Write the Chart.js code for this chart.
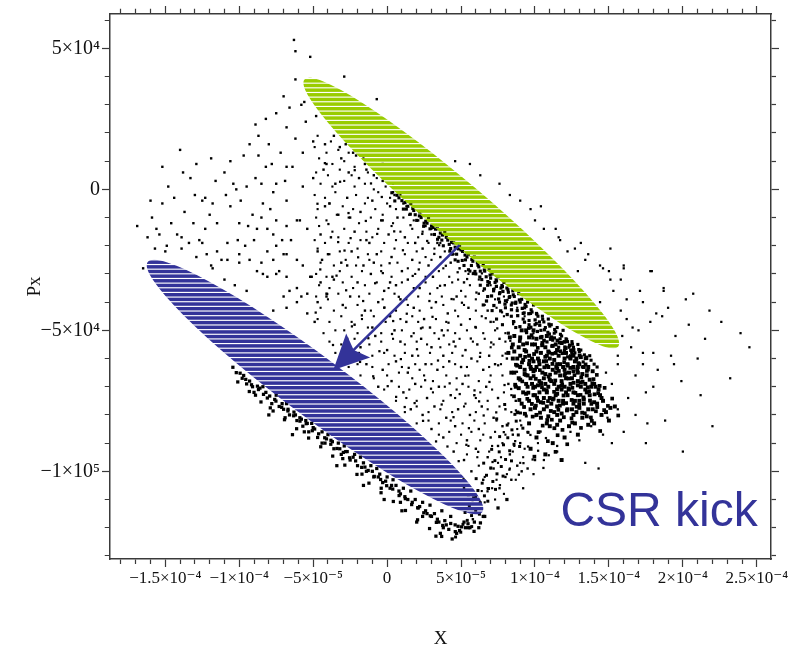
<!DOCTYPE html>
<html>
<head>
<meta charset="utf-8">
<script src="https://cdn.jsdelivr.net/npm/chart.js@4.4.1/dist/chart.umd.min.js"></script>
<style>
  html, body { margin: 0; padding: 0; background: #fff; }
  #wrap { width: 791px; height: 651px; }
</style>
</head>
<body>
<div id="wrap"><canvas id="phaseSpace"></canvas></div>
<script>
// all positions below are in units of 1e-5 (X) and 1e4 (Px)
const xRange = [-18.74, 25.96];
const yRange = [-13.11, 6.22];

const xTickValues = [-15, -10, -5, 0, 5, 10, 15, 20, 25];
const xTickLabels = ['−1.5×10⁻⁴', '−1×10⁻⁴', '−5×10⁻⁵', '0', '5×10⁻⁵', '1×10⁻⁴', '1.5×10⁻⁴', '2×10⁻⁴', '2.5×10⁻⁴'];
const yTickValues = [5, 0, -5, -10];
const yTickLabels = ['5×10⁴', '0', '−5×10⁴', '−1×10⁵'];

// particles
const sparseHalo = [
  [-6.3,5.3],[-6.2,4.9],[-5.2,4.7],[-2.9,4.0],[-5.6,3.1],[-5.8,3.0],[-6.2,3.9],[-0.7,3.2],
  [-9.3,1.6],[-8.7,1.9],[-7.5,2.7],[-6.8,2.2],[-14.0,1.4],[-15.2,0.8],[-13.3,0.4],[-16.9,-1.3],
  [-15.9,-1.0],[-15.2,-0.5],[-11.0,0.6],[-9.5,0.1],[-10.4,0.2],[-11.5,-1.2],[-12.5,-0.4],[-13.7,-0.8],
  [-14.9,-2.0],[-16.5,-2.8],[-15.7,-2.1],[-12.7,-1.8],[-10.8,-1.9],[-10.1,-1.8],[-9.1,-0.9],[-8.4,-0.5],
  [-7.7,-0.1],[-6.9,0.3],[-6.4,0.8],[-5.7,1.3],[-5.0,1.7],[-4.1,0.9],[-3.2,1.5],[-2.3,1.3],
  [-1.4,0.7],[-0.3,0.9],[-3.9,-0.5],[-4.5,-1.6],[-5.9,-1.1],[-7.0,-2.3],[-8.1,-1.4],[-2.5,-1.0],
  [-1.4,-1.8],[-0.3,-1.1],[0.4,-0.1],[-2.7,-2.7],[-3.7,-3.1],[-0.9,-2.6],[0.2,-3.3],[-5.2,-3.1],
  [-6.6,-3.6],[-8.4,-3.0],[-10.0,-2.6],[-4.1,-3.7],
  [-16.2,-1.7],[-15.6,-1.4],[-14.6,-1.2],[-14.4,-0.3],[-13.1,-1.2],[-12.9,0.9],[-12.0,-0.9],[-11.6,0.3],
  [-11.2,-2.5],[-10.6,1.0],[-10.0,-1.2],[-9.7,1.2],[-9.0,-1.8],[-8.9,2.3],[-8.2,0.8],[-8.0,1.6],
  [-7.3,-2.9],[-7.2,1.3],[-6.5,-1.8],[-6.2,1.8],[-5.8,-3.8],[-5.5,2.4],[-4.9,-4.7],[-4.8,2.6],
  [-4.2,1.6],[-7.0,3.3],[-6.6,2.9],[-8.2,2.5],[-9.9,-0.4],[-13.0,-0.2],[-14.8,0.1],[-16.0,-0.4],
  [-15.4,-1.6],[-11.9,1.1],[-10.9,-0.2],[-7.9,-0.7],[-7.1,-1.8],[-9.4,-1.3],[-12.3,-1.4],[-13.8,0.6]
];
const upperField = [
  [-12.3,-0.3],[-11.8,-0.5],[-9.6,-2.0],[-10.6,-0.6],[-10.2,0.0],[-8.9,0.4],[-8.5,0.2],[-7.5,0.2],
  [-6.8,-0.4],[-6.1,-1.1],[-5.4,-1.4],[-4.7,-2.2],[-4.4,-2.5],[-5.7,0.1],[-5.0,0.4],[-4.3,0.7],
  [-6.8,0.8],[-7.8,0.9],[-8.7,1.2],[-11.8,-2.8],[-12.5,-1.9],[-13.9,-1.7],[-14.2,-1.6],[-11.5,-2.2],
  [-10.0,-2.3],[-9.3,-2.5],[-10.8,-2.5],[-8.5,-2.6],[-8.1,-2.2],[-7.7,-1.6],[-8.8,-1.4],[-8.5,-1.0],
  [-7.5,-1.1],[-6.8,-1.3],[-7.5,-2.0],[-6.8,-2.3],[-6.1,-2.5],[-5.7,-2.7],[-5.1,-3.1],[-4.5,-3.3],
  [-5.4,-3.7],[-6.1,-3.5],[-6.8,-3.1],[-7.5,-3.0],[-8.1,-3.1],[-8.8,-2.9],[-7.7,-2.5],[-4.1,-3.8],
  [-4.7,-4.0],[-6.1,-4.0],[-7.0,-3.8],[-7.7,-4.3],[-6.8,-4.2],[-5.4,-4.4],
  [-15.0,-2.2],[-13.9,-2.1],[-12.9,-2.4],[-11.9,-2.7],[-11.0,-3.2],[-10.3,-3.4],[-9.5,-3.6],[-13.4,-1.9],[-12.2,-2.3]
];
const midField = [
  [-3.6,1.9],[-2.8,1.6],[-2.1,1.2],[-1.5,0.9],[-3.1,1.1],[-0.9,0.5],[-1.9,0.4],[-0.3,0.3],[-2.6,0.6],[-3.5,0.2],[0.5,-0.2],[1.1,-0.5],[0.2,-0.6],
  [-4.2,-0.6],[-3.3,-0.9],[-2.7,-0.3],[-1.8,-0.8],[-1.0,-0.4],[-0.4,-1.1],[0.7,-1.0],[1.5,-0.9],[2.1,-1.1],[2.6,-1.3],[-2.2,-1.5],[-3.8,-1.7],
  [-1.2,-1.9],[0.1,-1.6],[1.2,-1.7],[1.9,-1.9],[3.0,-1.6],[3.4,-1.9],[2.4,-2.1],
  [-4.0,-2.3],[-3.1,-2.6],[-2.4,-2.2],[-1.6,-2.7],[-0.7,-2.3],[0.3,-2.4],[1.0,-2.9],[1.7,-2.5],[2.8,-2.7],[3.6,-2.4],[4.3,-2.6],[4.9,-2.8],
  [-3.6,-3.2],[-2.0,-3.3],[-1.1,-3.0],[0.6,-3.4],[1.4,-3.2],[2.2,-3.5],[3.1,-3.1],[3.9,-3.4],[5.2,-3.3],[5.8,-3.0],[-0.2,-3.6],
  [-3.0,-4.1],[-2.5,-3.8],[-1.5,-4.3],[-0.6,-4.0],[0.2,-4.5],[0.9,-3.9],[1.8,-4.2],[2.5,-4.6],[3.3,-4.0],[4.1,-4.4],[4.7,-3.8],[5.5,-4.2],
  [6.2,-3.7],[6.8,-4.3],[-2.2,-4.8],[-1.0,-4.9],[0.5,-5.0],[1.3,-4.7],[2.9,-4.9],[3.7,-5.0],[5.0,-4.8],[6.0,-4.9],[7.0,-4.7],
  [-2.7,-5.3],[-1.8,-5.6],[-0.8,-5.2],[0.0,-5.7],[0.9,-5.4],[1.7,-5.9],[2.3,-5.3],[3.0,-5.6],[3.8,-5.9],[4.5,-5.4],[5.3,-5.7],[6.1,-5.5],
  [6.9,-5.9],[7.6,-5.3],[-1.4,-6.2],[-0.3,-6.4],[0.6,-6.1],[1.4,-6.5],[2.6,-6.2],[3.4,-6.4],[4.2,-6.1],[5.0,-6.3],[5.7,-6.0],[6.5,-6.4],
  [7.3,-6.2],[8.1,-6.0],
  [-0.6,-7.0],[0.3,-6.8],[1.1,-7.2],[1.9,-6.9],[2.7,-7.4],[3.5,-7.0],[4.3,-7.3],[5.1,-6.9],[5.9,-7.3],[6.7,-7.0],[7.5,-7.4],[8.2,-6.9],
  [1.6,-7.8],[2.4,-8.0],[3.2,-7.7],[4.0,-8.1],[4.8,-7.8],[5.6,-8.0],[6.4,-7.7],[7.2,-8.1],[8.0,-7.8],[8.7,-7.5],
  [3.0,-8.5],[3.8,-8.8],[4.6,-8.4],[5.4,-8.9],[6.2,-8.5],[7.0,-8.8],[7.8,-8.4],[8.5,-8.7],[4.5,-9.3],[5.2,-9.6],[6.0,-9.2],[6.8,-9.5],
  [7.5,-9.1],[8.3,-9.4],[9.0,-9.0],[5.7,-10.0],[6.5,-10.3],[7.2,-9.9],[8.0,-10.2],[8.8,-9.8],[9.5,-9.9],
  [5.2,-10.6],[6.0,-10.9],[6.8,-10.6],[7.6,-10.6],[8.4,-10.3],[9.1,-10.0],[6.3,-11.1],[5.8,-11.7],[10.0,-9.6]
];
const midFieldFill = [
  [-4.7,1.9],[-3.8,1.7],[-4.9,1.5],[-4.1,1.3],[-3.3,1.4],[-2.6,1.3],[-4.6,1.1],[-3.7,0.9],[-2.9,1.0],[-2.2,0.8],[-1.6,1.1],
  [-4.8,0.6],[-4.0,0.5],[-3.2,0.7],[-2.4,0.5],[-1.3,0.6],[-0.7,0.4],[-4.5,0.2],[-3.7,0.1],[-2.9,0.3],[-2.2,0.1],[-1.5,0.2],
  [-0.9,0.0],[-0.1,0.1],[0.4,0.2],[-4.9,-0.2],[-4.2,-0.3],[-3.5,-0.1],[-2.1,-0.2],[-1.3,-0.3],[-0.6,-0.1],[0.2,-0.3],[0.9,-0.2],
  [-4.7,-0.7],[-3.9,-0.5],[-3.0,-0.6],[-2.3,-0.7],[-1.5,-0.5],[-0.8,-0.7],[0.0,-0.5],[0.6,-0.7],[1.3,-0.6],
  [-4.8,-1.0],[-4.1,-1.1],[-3.4,-0.9],[-2.6,-1.0],[-1.9,-1.2],[-1.1,-1.0],[-0.3,-0.9],[0.4,-1.2],[1.1,-1.0],[1.8,-1.1],[2.3,-0.9],
  [-4.6,-1.3],[-3.7,-1.5],[-2.9,-1.4],[-1.4,-1.5],[-0.6,-1.4],[0.3,-1.3],[0.9,-1.5],[1.7,-1.4],[2.4,-1.5],[3.0,-1.4],
  [-4.9,-1.8],[-4.2,-1.9],[-3.3,-1.7],[-2.6,-1.9],[-1.8,-1.8],[-1.0,-1.7],[-0.2,-1.9],[0.6,-1.8],[1.4,-1.9],[2.1,-1.7],[2.8,-1.9],[3.6,-1.9],
  [-4.7,-2.1],[-3.9,-2.3],[-3.2,-2.2],[-2.0,-2.1],[-1.3,-2.3],[-0.4,-2.2],[0.5,-2.1],[1.2,-2.3],[2.0,-2.2],[2.6,-2.4],[3.2,-2.1],[3.9,-2.2],[4.5,-2.3],
  [-4.5,-2.6],[-3.6,-2.7],[-2.8,-2.5],[-2.1,-2.7],[-1.2,-2.5],[-0.4,-2.7],[0.7,-2.6],[1.4,-2.8],[2.2,-2.6],[3.0,-2.5],[3.8,-2.8],[5.3,-2.9],
  [-4.8,-3.0],[-4.1,-3.1],[-3.2,-2.9],[-2.4,-3.1],[-1.7,-2.9],[-0.4,-2.9],[0.3,-3.1],[1.9,-3.0],[2.6,-3.1],[3.5,-2.9],[4.2,-3.1],[4.8,-3.2],[5.5,-3.0],[6.2,-3.2],
  [-4.6,-3.4],[-3.9,-3.5],[-3.0,-3.3],[-2.3,-3.5],[-1.5,-3.4],[-0.7,-3.3],[0.1,-3.5],[1.0,-3.3],[1.8,-3.5],[2.6,-3.3],[3.4,-3.5],[4.4,-3.3],
  [5.0,-3.6],[5.6,-3.4],[6.5,-3.6],[7.0,-3.4],
  [-4.8,-3.8],[-4.0,-3.9],[-3.3,-3.7],[-1.9,-3.8],[-1.2,-3.7],[-0.3,-3.9],[0.5,-3.7],[1.3,-3.9],[2.1,-3.8],[2.9,-3.7],[3.7,-3.8],[4.5,-3.9],
  [5.3,-3.8],[6.0,-3.9],[7.3,-3.9],[7.9,-3.8],
  [-4.5,-4.2],[-3.6,-4.3],[-2.8,-4.2],[-2.0,-4.1],[-1.1,-4.3],[-0.2,-4.2],[0.6,-4.3],[1.4,-4.1],[2.2,-4.3],[3.0,-4.2],[3.8,-4.1],[4.6,-4.3],
  [5.2,-4.1],[6.0,-4.3],[6.6,-4.1],[7.4,-4.2],[8.1,-4.0],[8.8,-4.2],
  [-4.7,-4.6],[-3.9,-4.7],[-3.1,-4.5],[-2.4,-4.7],[-1.7,-4.6],[-0.9,-4.5],[-0.1,-4.7],[0.9,-4.6],[1.7,-4.5],[2.1,-4.7],[3.3,-4.6],[4.0,-4.7],
  [4.8,-4.5],[5.6,-4.6],[6.4,-4.5],[7.2,-4.7],[7.9,-4.5],[8.6,-4.7],[9.3,-4.5],
  [-4.3,-5.1],[-3.5,-5.0],[-2.9,-5.0],[-2.0,-5.1],[-1.3,-4.9],[-0.4,-5.1],[1.0,-5.0],[1.8,-5.1],[2.4,-4.9],[3.2,-5.1],[4.1,-5.0],[4.6,-5.1],
  [5.4,-5.0],[6.5,-5.1],[7.3,-5.0],[8.0,-5.1],[9.9,-5.1],
  [-3.9,-5.4],[-3.1,-5.5],[-2.2,-5.3],[-1.2,-5.5],[-0.4,-5.4],[0.4,-5.3],[1.2,-5.5],[2.0,-5.4],[2.7,-5.5],[3.5,-5.3],[4.2,-5.5],[4.9,-5.3],
  [5.8,-5.4],[6.6,-5.3],[7.2,-5.5],[8.0,-5.4],
  [-3.5,-5.8],[-2.7,-5.9],[-1.9,-5.8],[-1.0,-5.9],[-0.2,-5.8],[0.5,-5.9],[1.2,-5.8],[2.1,-5.9],[2.9,-5.8],[3.6,-5.6],[4.4,-5.8],[5.1,-5.9],
  [6.3,-5.8],[7.0,-5.6],[7.8,-5.9],
  [-2.6,-6.3],[-2.0,-6.2],[-1.0,-6.3],[0.1,-6.2],[1.0,-6.3],[1.9,-6.2],[2.2,-6.4],[3.0,-6.2],[3.8,-6.3],[4.6,-6.2],[5.4,-6.3],[6.1,-6.1],
  [6.9,-6.3],[7.7,-6.2],
  [-1.8,-6.6],[-0.9,-6.7],[0.0,-6.6],[0.8,-6.5],[1.7,-6.7],[2.5,-6.6],[3.1,-6.8],[4.0,-6.6],[4.7,-6.7],[5.5,-6.6],[6.2,-6.8],[7.0,-6.6],[7.8,-6.6],
  [-0.2,-7.1],[0.8,-7.0],[1.5,-7.1],[2.3,-7.0],[3.1,-7.2],[3.9,-7.0],[4.7,-7.1],[5.5,-7.0],[6.3,-7.2],[7.1,-7.1],[7.9,-7.2],
  [0.6,-7.5],[1.3,-7.4],[2.0,-7.5],[3.8,-7.5],[4.6,-7.4],[5.3,-7.6],[6.0,-7.4],[6.8,-7.5],[8.4,-7.3],
  [1.2,-7.9],[2.0,-7.7],[2.8,-7.9],[3.6,-7.8],[4.4,-7.9],[5.2,-7.7],[6.0,-7.9],[6.8,-7.8],[7.6,-7.7],[8.4,-7.9],
  [2.0,-8.3],[2.8,-8.2],[3.5,-8.3],[4.3,-8.2],[5.1,-8.3],[5.9,-8.2],[6.6,-8.3],[7.4,-8.2],[8.2,-8.3],[9.0,-8.2],
  [3.5,-8.7],[4.2,-8.6],[5.0,-8.7],[5.7,-8.6],[6.5,-8.7],[7.3,-8.6],[8.0,-8.7],[8.8,-8.5],[9.5,-8.6],
  [4.7,-9.0],[5.5,-9.1],[6.3,-8.9],[7.1,-9.1],[7.8,-9.0],[8.6,-9.1],[9.3,-9.2],[10.2,-9.0],
  [5.4,-9.4],[6.1,-9.5],[6.9,-9.3],[7.7,-9.5],[8.5,-9.3],[9.2,-9.5],[6.2,-9.8],[7.0,-9.9],[7.5,-9.7],[8.3,-9.9],[9.0,-9.7],
  [6.6,-10.2],[7.4,-10.3],[8.1,-10.1],[8.7,-10.3],[6.4,-10.7],[7.1,-10.6],[7.9,-10.8],[6.6,-11.1],[7.3,-11.0]
];
const scatterFill = [
  [-4.83,-4.37],[-4.52,-2.84],[-4.21,0.93],[-3.97,-1.23],[-3.66,-5.52],[-3.42,-3.06],[-3.18,0.27],[-4.71,-0.51],[-4.05,-3.71],[-3.31,-1.87],
  [-2.93,-5.92],[-2.77,-3.58],[-2.61,-0.84],[-2.38,-4.86],[-2.19,0.68],[-1.96,-2.41],[-1.83,-6.12],[-1.62,-3.96],[-1.44,-1.12],[-1.27,-5.28],
  [-1.09,0.21],[-2.47,-1.73],[-1.71,-4.47],[-2.88,-2.17],
  [-0.94,-6.63],[-0.81,-3.33],[-0.67,-1.58],[-0.52,-5.74],[-0.36,-0.27],[-0.18,-4.19],[0.04,-6.98],[0.17,-2.62],[0.33,-5.13],[0.48,-1.49],
  [0.61,-7.36],[0.79,-3.81],[0.93,-6.02],[-0.29,-2.97],[0.41,-4.67],
  [1.07,-2.16],[1.19,-7.72],[1.33,-4.41],[1.46,-6.33],[1.58,-1.27],[1.73,-3.07],[1.86,-7.58],[2.02,-5.67],[2.14,-2.84],[2.29,-4.93],
  [2.43,-8.21],[2.57,-6.77],[2.71,-1.83],[2.86,-3.96],[2.97,-7.07],[1.64,-5.21],[2.38,-1.58],
  [3.07,-4.52],[3.19,-2.29],[3.31,-8.94],[3.44,-6.07],[3.58,-3.42],[3.69,-7.63],[3.83,-5.18],[3.97,-2.71],[4.08,-9.12],[4.23,-6.88],
  [4.36,-3.89],[4.49,-8.08],[4.62,-5.57],[4.77,-2.94],[4.91,-7.26],[3.52,-1.98],[4.15,-4.73],[4.84,-9.64],
  [5.06,-4.02],[5.17,-10.28],[5.29,-6.61],[5.41,-3.18],[5.53,-8.47],[5.66,-5.29],[5.78,-11.02],[5.91,-7.13],[6.04,-3.66],[6.16,-9.31],
  [6.28,-5.94],[6.41,-2.98],[6.53,-8.02],[6.67,-4.57],[6.79,-10.71],[6.92,-6.83],[5.36,-9.06],[6.22,-7.52],[6.85,-3.29],[5.97,-4.88],
  [7.04,-5.43],[7.13,-9.67],[7.26,-3.52],[7.38,-7.91],[7.51,-6.24],[7.63,-10.49],[7.77,-4.36],[7.89,-8.61],[8.02,-5.82],[8.14,-3.92],
  [8.27,-9.94],[8.39,-7.08],[8.52,-4.78],[8.66,-8.93],[8.78,-6.47],[8.91,-10.12],[7.45,-4.93],[8.33,-5.37],[7.94,-6.94],[8.71,-7.84],
  [9.07,-8.37],[9.22,-9.71],[9.38,-7.96],[9.53,-9.12],[9.69,-8.71],[9.84,-9.58],[10.03,-8.04],[10.21,-9.27],[10.38,-8.59],[10.57,-9.88],
  [10.74,-8.82],[10.93,-9.43]
];
const blueEdgeBand = [
  [-10.2,-6.5],[-9.8,-6.7],[-9.5,-6.9],[-9.1,-7.0],[-8.7,-7.1],[-8.9,-7.3],[-8.4,-7.0],[-8.1,-7.4],[-7.8,-7.6],[-7.5,-7.3],[-7.3,-7.7],
  [-7.0,-7.8],[-6.8,-7.6],[-6.6,-8.0],[-6.3,-7.9],[-6.1,-8.2],[-5.9,-8.1],[-5.7,-8.4],[-5.5,-8.2],[-5.3,-8.6],[-5.1,-8.3],[-4.9,-8.5],
  [-4.7,-8.8],[-4.4,-8.6],[-4.2,-9.0],[-4.0,-8.7],[-3.8,-8.9],[-3.6,-9.2],[-3.3,-9.0],[-3.1,-9.4],[-2.9,-9.1],[-2.7,-9.3],[-2.5,-9.6],
  [-2.2,-9.4],[-2.0,-9.8],[-1.8,-9.5],[-1.6,-9.7],[-1.4,-10.0],[-1.1,-9.8],[-0.9,-10.2],[-0.7,-9.9],[-0.5,-10.1],[-0.3,-10.4],[0.0,-10.2],
  [0.2,-10.6],[0.4,-10.3],[0.6,-10.5],[0.9,-10.8],[1.1,-10.6],[1.4,-11.0],[1.6,-10.7],[1.9,-11.0],[2.1,-11.3],[2.4,-11.1],[2.7,-11.5],
  [2.9,-11.2],[3.2,-11.5],[3.5,-11.8],[3.7,-11.4],[4.0,-11.9],[4.3,-11.6],[4.6,-11.9],[4.9,-12.1],[5.2,-11.8],[5.5,-12.0],[5.9,-11.8],
  [6.2,-12.0],[6.6,-11.6],[-6.4,-8.7],[-3.4,-9.8],[-0.2,-11.0],[2.0,-11.8],[3.3,-12.3],[4.4,-12.4],[-8.0,-8.0],[-1.6,-10.5],[1.0,-11.4],
  [3.6,-12.2],[4.7,-12.2],[5.6,-12.0],[6.5,-11.6],[7.5,-11.3],[8.1,-11.0],
  [-9.7,-6.6],[-9.3,-6.8],[-8.6,-7.05],[-8.2,-7.2],[-7.6,-7.45],[-7.1,-7.6],[-6.7,-7.8],[-6.2,-8.0],[-5.8,-8.15],[-5.4,-8.3],[-5.0,-8.45],
  [-4.1,-8.85],[-3.7,-8.95],[-3.2,-9.2],[-2.8,-9.3],[-2.3,-9.5],[-1.5,-9.85],[-1.0,-10.0],[-0.6,-10.2],[-0.1,-10.35],[0.3,-10.5],
  [0.8,-10.7],[1.2,-10.9],[1.7,-11.1],[2.2,-11.25],[2.6,-11.4],[3.0,-11.6],[3.4,-11.7],[3.9,-11.75],[4.3,-11.85],[4.8,-11.95],[5.3,-12.0],
  [-9.0,-7.2],[-7.9,-7.75],[-6.9,-8.1],[-5.6,-8.6],[-4.4,-9.0],[-3.0,-9.55],[-1.7,-10.1],[-0.4,-10.6],[0.9,-11.1],[2.4,-11.6],[3.8,-12.0]
];
const blueEdgeFill = [
  [-10.43,-6.31],[-9.94,-6.52],[-9.56,-6.74],[-9.17,-6.93],[-8.77,-6.98],[-8.36,-7.27],[-7.94,-7.33],[-7.52,-7.51],[-7.13,-7.73],
  [-6.71,-7.86],[-6.32,-8.03],[-5.89,-8.22],[-5.47,-8.31],[-5.06,-8.56],[-4.63,-8.67],[-4.22,-8.81],[-3.81,-9.04],[-3.39,-9.19],
  [-2.96,-9.33],[-2.54,-9.52],[-2.13,-9.63],[-1.72,-9.86],[-1.28,-9.97],[-0.87,-10.18],[-0.44,-10.29],[-0.03,-10.51],[0.38,-10.63],
  [0.81,-10.86],[1.23,-10.97],[1.66,-11.18],[2.07,-11.29],[2.48,-11.47],[2.92,-11.58],[3.33,-11.81],[3.76,-11.92],[4.17,-12.06],
  [4.61,-12.14],[5.04,-11.97],[5.47,-11.86],[5.88,-12.13],[6.31,-11.83],
  [-10.1,-6.83],[-9.32,-7.17],[-8.53,-7.54],[-7.71,-7.86],[-6.94,-8.17],[-6.12,-8.49],[-5.31,-8.82],[-4.49,-9.13],[-3.68,-9.46],
  [-2.86,-9.78],[-2.04,-10.11],[-1.23,-10.42],[-0.41,-10.76],[0.42,-11.07],[1.24,-11.39],[2.06,-11.72],[2.87,-12.03],[3.69,-12.31]
];
const greenEdgeBand = [
  [1.0,-0.4],[1.3,-0.7],[1.6,-0.5],[1.9,-0.9],[2.2,-0.8],[2.5,-1.2],[2.8,-1.0],[3.0,-1.3],[3.2,-1.6],[3.4,-1.4],[3.7,-1.8],[3.9,-1.5],
  [4.1,-1.8],[4.3,-2.1],[4.5,-1.9],[4.7,-2.3],[4.9,-2.0],[5.1,-2.2],[5.3,-2.5],[5.5,-2.3],[5.7,-2.7],[5.9,-2.4],[6.1,-2.6],[6.3,-2.9],
  [6.5,-2.7],[6.7,-3.1],[6.9,-2.8],[7.1,-3.0],[7.3,-3.3],[7.5,-3.1],[7.7,-3.5],[7.9,-3.3],[8.1,-3.5],[8.3,-3.8],[8.5,-3.6],[8.7,-4.0],
  [8.9,-3.7],[9.1,-3.9],[9.3,-4.2],[9.5,-4.0],[9.7,-4.4],[9.9,-4.1],[10.1,-4.4],[10.3,-4.7],[10.5,-4.5],[10.7,-4.9],[10.9,-4.6],[11.1,-4.8],
  [11.3,-5.1],[11.5,-4.9],[11.7,-5.3],[11.9,-5.0],[12.1,-5.3],[12.3,-5.6],[12.5,-5.4],[12.7,-5.8],[12.9,-5.5],[13.1,-5.7],[13.4,-6.0],
  [13.7,-5.9],[14.0,-6.2],
  [6.3,-3.4],[6.8,-3.8],[7.2,-3.6],[7.6,-4.0],[7.1,-4.3],[8.0,-4.2],[8.4,-4.5],[7.8,-4.8],[8.7,-4.9],[9.2,-4.6],[6.5,-4.1],[7.4,-4.6],
  [8.2,-5.1],[9.0,-5.3],[9.6,-4.8],
  [2.0,-1.1],[3.5,-1.7],[4.4,-2.3],[5.2,-2.7],[6.0,-3.0],[6.8,-3.4],[7.6,-3.7],[8.4,-4.1],[9.2,-4.4],[10.0,-4.8],[10.8,-5.2],[11.6,-5.6],
  [12.4,-5.9],[13.2,-6.3],[2.9,-1.4],[3.8,-2.0],[4.6,-2.5],[5.6,-2.9],
  [0.8,-0.3],[1.4,-0.6],[1.8,-0.75],[2.3,-1.0],[2.7,-1.2],[3.1,-1.35],[3.6,-1.55],[4.0,-1.7],[4.2,-1.95],[4.6,-2.05],[5.0,-2.15],[5.4,-2.4],
  [5.8,-2.55],[6.2,-2.75],[6.6,-2.9],[7.0,-3.15],[7.4,-3.25],[7.8,-3.45],[8.2,-3.65],[8.6,-3.8],[9.0,-4.0],[9.4,-4.15],[9.8,-4.35],
  [10.2,-4.5],[10.6,-4.7],[11.0,-4.85],[11.4,-5.05],[11.8,-5.2],[12.2,-5.4],[12.6,-5.6],[13.0,-5.75],[13.5,-6.0],[14.2,-6.3],
  [1.1,-0.7],[4.8,-2.55],[5.5,-2.85],[6.4,-3.2],[7.2,-3.55],[8.0,-3.95],[8.8,-4.3],[9.6,-4.65],[10.4,-5.0],[11.2,-5.35],[12.0,-5.7],
  [12.8,-6.05],[13.6,-6.4]
];
const greenEdgeFill = [
  [0.32,-0.12],[0.67,-0.21],[1.21,-0.47],[1.74,-0.68],[2.18,-0.94],[2.61,-1.13],[3.27,-1.41],[3.74,-1.62],[4.36,-1.88],[4.83,-2.11],
  [5.27,-2.33],[5.73,-2.49],[6.14,-2.69],[6.57,-2.86],[6.96,-3.04],[7.37,-3.21],[7.76,-3.41],[8.17,-3.56],[8.53,-3.74],[8.94,-3.92],
  [9.33,-4.08],[9.74,-4.27],[10.13,-4.43],[10.52,-4.61],[10.94,-4.78],[11.33,-4.97],[11.72,-5.14],[12.14,-5.33],[12.53,-5.49],
  [12.96,-5.68],[13.34,-5.87],[13.79,-6.06],
  [0.52,-0.41],[1.57,-0.88],[2.47,-1.31],[3.41,-1.77],[4.24,-2.19],[5.08,-2.52],[5.94,-2.91],[6.81,-3.27],[7.63,-3.66],[8.46,-4.03],
  [9.27,-4.38],[10.09,-4.76],[10.87,-5.07],[11.69,-5.43],[12.48,-5.78],[13.26,-6.12]
];
const greenEdgeThick = [
  [6.58,-3.53],[6.72,-3.96],[6.91,-3.31],[7.06,-3.78],[7.22,-4.12],[7.39,-3.44],[7.54,-3.89],[7.68,-4.31],[7.83,-3.62],[7.97,-4.07],
  [8.12,-4.44],[8.26,-3.83],[8.41,-4.27],[8.55,-4.69],[8.69,-4.04],[8.83,-4.48],[8.98,-4.87],[9.14,-4.22],[9.29,-4.71],[9.43,-5.08],
  [9.58,-4.41],[9.72,-4.89],[9.86,-5.27],[10.01,-4.63],[10.16,-5.04],[10.32,-4.82],[10.47,-5.22],[10.64,-4.98],[10.81,-5.41],[10.97,-5.13],
  [11.14,-5.56],[11.31,-5.27],[11.48,-5.68],[11.66,-5.44],[11.84,-5.82],[12.02,-5.59],[12.21,-5.94],[12.42,-5.71],[6.27,-3.11],[5.86,-2.98]
];
const denseCore = [
  [8.6,-5.2],[9.4,-5.0],[10.1,-5.3],[10.8,-5.2],[9.8,-5.5],[8.9,-5.6],[11.4,-5.5],[12.0,-5.8],
  [8.2,-5.8],[8.8,-6.0],[9.3,-5.7],[9.9,-6.1],[10.4,-5.8],[11.0,-6.0],[11.6,-5.9],[12.2,-6.2],[12.8,-6.0],[13.3,-6.3],[10.7,-5.6],[9.6,-5.9],
  [8.4,-6.5],[9.0,-6.3],[9.5,-6.6],[10.0,-6.4],[10.6,-6.7],[11.2,-6.4],[11.7,-6.6],[12.3,-6.5],[12.9,-6.8],[13.5,-6.6],[14.0,-6.9],
  [10.3,-6.2],[11.5,-6.2],[12.6,-6.3],
  [8.7,-7.0],[9.2,-7.2],[9.8,-6.9],[10.3,-7.2],[10.9,-7.0],[11.4,-7.3],[12.0,-7.0],[12.6,-7.2],[13.1,-7.0],[13.7,-7.3],[14.3,-7.1],
  [11.1,-6.8],[12.4,-6.9],
  [9.1,-7.6],[9.7,-7.8],[10.2,-7.5],[10.8,-7.7],[11.3,-7.9],[11.9,-7.6],[12.5,-7.8],[13.0,-7.5],[13.6,-7.8],[14.2,-7.6],[14.8,-7.9],[15.4,-7.7],
  [9.6,-8.3],[10.4,-8.1],[11.0,-8.4],[11.7,-8.2],[12.3,-8.4],[13.2,-8.1],[14.0,-8.3],[15.0,-8.2],
  [10.1,-8.8],[11.2,-9.0],[12.0,-8.8],[12.9,-8.7],[10.7,-9.4],[9.7,-9.2],[11.8,-9.6],
  [10.2,-6.0],[10.5,-6.5],[10.9,-6.3],[11.3,-6.9],[11.8,-7.1],[12.1,-6.7],[11.0,-7.4],[12.7,-7.5],[11.6,-7.5],[12.2,-7.3],[10.7,-6.9],
  [11.9,-6.3],[10.0,-7.0],[9.4,-6.9],[12.9,-6.5],[13.3,-7.6],[11.4,-5.8],[12.6,-5.9],
  [9.0,-5.9],[9.7,-6.3],[10.4,-6.9],[11.1,-7.6],[11.7,-6.2],[12.4,-6.0],[13.0,-6.2],[13.4,-6.9],[12.8,-7.9],[11.5,-8.0],[10.6,-7.4],
  [9.9,-7.3],[9.3,-6.4],[10.8,-5.9],[12.0,-6.4],[13.8,-7.0],[14.5,-7.4],[8.9,-6.7]
];
const coreFill = [
  [9.1,-5.0],[9.9,-5.0],[8.3,-5.25],[9.0,-5.25],[9.6,-5.25],[10.4,-5.25],[11.1,-5.25],
  [8.5,-5.5],[9.2,-5.5],[10.0,-5.5],[10.5,-5.45],[11.2,-5.55],[11.8,-5.45],
  [8.6,-5.75],[9.4,-5.75],[10.1,-5.75],[10.9,-5.75],[11.5,-5.7],[12.1,-5.8],[12.6,-5.7],
  [8.5,-6.0],[9.2,-6.05],[9.8,-6.0],[10.6,-6.1],[11.3,-6.05],[12.0,-6.0],[12.7,-6.1],[13.1,-5.95],
  [8.8,-6.25],[9.6,-6.2],[10.1,-6.3],[10.8,-6.25],[11.5,-6.35],[12.2,-6.25],[12.9,-6.3],[13.6,-6.3],
  [8.6,-6.5],[9.3,-6.55],[9.9,-6.45],[10.7,-6.55],[11.4,-6.5],[12.0,-6.6],[12.6,-6.45],[13.2,-6.55],[13.9,-6.45],
  [9.0,-6.75],[9.7,-6.7],[10.3,-6.8],[11.0,-6.75],[11.8,-6.8],[12.5,-6.7],[13.1,-6.85],[13.7,-6.75],
  [8.9,-7.05],[9.5,-7.0],[10.2,-6.95],[10.6,-7.1],[11.6,-7.0],[12.3,-7.1],[12.9,-6.95],[13.4,-7.1],[14.1,-7.0],
  [9.4,-7.25],[10.0,-7.3],[10.8,-7.2],[11.5,-7.25],[12.1,-7.2],[12.9,-7.3],[13.5,-7.2],[14.4,-7.3],
  [9.6,-7.5],[10.4,-7.55],[11.2,-7.45],[11.9,-7.5],[12.6,-7.6],[13.3,-7.45],[14.0,-7.55],[14.6,-7.5],
  [10.0,-7.75],[10.6,-7.8],[11.5,-7.7],[12.2,-7.8],[13.0,-7.75],[13.9,-7.8],[15.1,-7.75],
  [10.1,-8.0],[10.9,-8.05],[11.8,-7.95],[12.6,-8.0],[13.5,-8.05],[14.5,-8.0],[10.8,-8.3],[11.5,-8.35],[12.7,-8.3],[13.6,-8.35]
];
const coreSpeckle = [
  [8.43,-5.61],[8.71,-6.22],[8.97,-5.38],[9.14,-6.81],[9.33,-5.94],[9.48,-7.43],[9.62,-6.08],[9.77,-5.17],[9.91,-6.62],[10.06,-7.67],
  [10.19,-5.62],[10.33,-6.41],[10.47,-7.02],[10.61,-5.36],[10.76,-6.09],[10.88,-7.51],[11.02,-6.57],[11.17,-5.83],[11.29,-7.18],
  [11.43,-6.29],[11.58,-7.82],[11.72,-5.74],[11.84,-6.92],[11.97,-6.13],[12.11,-7.58],[12.26,-6.71],[12.38,-5.97],[12.53,-7.04],
  [12.67,-6.59],[12.81,-7.71],[12.94,-6.16],[13.08,-7.29],[13.22,-6.82],[13.37,-7.94],[13.51,-6.44],[13.66,-7.16],[13.81,-7.61],
  [13.96,-6.73],[14.12,-7.87],[14.27,-7.23],[9.26,-7.72],[9.84,-8.06],[10.52,-8.38],[11.14,-8.17],[11.86,-8.53],[12.47,-8.12],
  [13.11,-8.46],[13.78,-8.09],[10.24,-8.61],[11.53,-8.72],[8.58,-7.34],[8.82,-7.91],[12.35,-5.53],[11.06,-5.31],[9.58,-4.92],
  [10.69,-5.94],[11.99,-5.41],[13.46,-5.96],[14.18,-6.58],[14.71,-7.04],[15.22,-7.42],[15.63,-8.02],[14.93,-7.68],[14.41,-8.57],
  [12.18,-9.04],[11.39,-9.31],[10.87,-8.93],[9.96,-9.48]
];
const coreCenter = [
  [9.12,-6.14],[9.37,-6.58],[9.55,-7.21],[9.73,-6.37],[9.88,-7.04],[10.05,-6.72],[10.14,-7.39],[10.27,-6.08],[10.41,-6.87],[10.56,-7.57],
  [10.63,-6.31],[10.79,-7.13],[10.92,-6.64],[11.07,-7.86],[11.18,-6.19],[11.26,-7.42],[11.37,-6.78],[11.49,-7.09],[11.61,-6.44],[11.68,-7.67],
  [11.79,-6.97],[11.93,-7.31],[12.04,-6.52],[12.16,-7.84],[12.27,-7.06],[12.39,-6.33],[12.48,-7.47],[12.61,-6.86],[12.73,-7.22],[12.86,-6.39],
  [12.99,-7.63],[13.13,-6.67],[13.28,-7.38],[13.42,-6.21],[13.57,-7.02],[13.72,-7.49],[13.88,-6.88],[14.03,-7.27],[14.21,-7.72],[14.37,-6.97],
  [9.46,-5.46],[9.94,-5.84],[10.48,-5.53],[10.96,-5.79],[11.52,-5.36],[12.07,-5.63],[12.56,-5.86],[13.02,-5.89],[8.66,-6.93],[8.94,-7.47],
  [9.31,-7.96],[9.79,-7.61],[10.34,-7.92],[10.83,-8.18],[11.31,-8.47],[11.95,-8.08],[12.52,-8.27],[13.19,-7.92],[13.84,-8.21],[14.68,-7.83]
];
const coreStreak = [
  [9.41,-8.04],[9.18,-8.47],[9.02,-7.93],[8.87,-8.71],[8.73,-8.22],[8.58,-9.04],[8.44,-8.53],[8.29,-9.27],[8.16,-8.81],[8.01,-9.58],
  [7.87,-9.06],[7.72,-9.83],[7.58,-9.31],[7.43,-10.09],[7.29,-9.62],[7.15,-10.36],[7.01,-9.88],[6.86,-10.61],[6.72,-10.14],[6.58,-10.87],
  [6.43,-10.42],[6.29,-11.13],[6.14,-10.68],[5.99,-11.38],[5.85,-10.94],[5.71,-11.57],[5.56,-11.21],[5.42,-11.74],[5.27,-11.46],[5.13,-11.88],
  [9.27,-7.71],[8.64,-7.98],[8.12,-8.36],[7.61,-8.77],[7.07,-9.22],[6.53,-9.71],[6.02,-10.26],[5.49,-10.83],[9.53,-8.62],[8.96,-9.12],
  [8.41,-9.63],[7.84,-10.17],[7.33,-10.64],[6.81,-11.06],[6.24,-11.52],[5.72,-11.96],[4.98,-12.16],[4.63,-12.33],[7.95,-7.63],[7.41,-8.14]
];
const rightTail = [
  [4.6,1.0],[5.6,0.9],[6.3,0.5],[7.6,0.2],[8.3,-0.2],[9.0,-0.4],[9.7,-0.7],[10.0,-1.1],[10.4,-0.6],[11.4,-1.4],[11.7,-1.8],[12.7,-2.1],
  [13.4,-2.5],[14.4,-2.7],[15.0,-2.9],[15.8,-3.2],[17.1,-3.6],
  [22.6,-4.7],[23.9,-5.1],[21.2,-7.3],[17.5,-9.0],[21.0,-6.0],[17.3,-5.8],[14.3,-9.9],[11.5,-9.3],[19.4,-6.2],
  [15.1,-2.1],[17.8,-2.9],[20.7,-3.7],[16.0,-2.8],[18.7,-3.5],[20.2,-3.9],[13.6,-2.3],[14.6,-2.8],
  [16.2,-4.6],[17.0,-5.0],[18.2,-4.4],[16.8,-6.6],[18.0,-7.0],[15.6,-6.2],[16.3,-7.4],[19.5,-5.2],[17.6,-8.3],[15.2,-9.0],[13.4,-9.7],
  [16.0,-8.6],[22.0,-8.4],[24.5,-5.6],[19.0,-4.2],[21.8,-4.3],
  [10.6,-1.4],[11.6,-1.7],[13.1,-1.9],[12.2,-2.2],[12.9,-2.9],[15.1,-3.2],[16.0,-2.7],[15.3,-3.6],[16.2,-3.9],[14.4,-4.0],[15.8,-4.3],
  [16.6,-4.9],[17.8,-4.7],[18.6,-4.5],[18.7,-3.6],[17.3,-4.0],[17.9,-2.9],[18.0,-5.8],[17.3,-6.2],[19.2,-5.9],[15.6,-5.9],[15.2,-6.9],
  [9.2,-10.6],[9.9,-10.1],[10.6,-9.6],[11.5,-9.1],[12.4,-8.6],[13.8,-8.4],[14.9,-8.1],[15.6,-7.8],
  [13.0,-8.9],[14.6,-8.7],[16.8,-8.0],[18.3,-6.4],[19.9,-6.8],[20.4,-4.8],[15.9,-5.2],[17.5,-7.2],[16.5,-5.6],[14.8,-6.5],
  [18.8,-8.2],[21.5,-5.3],[23.2,-6.7],[20.0,-9.3]
];

// ellipses: ends of the long axis, then one end of the short axis
const greenEnds = [[-5.59, 3.90], [15.62, -5.58]];
const greenSide = [3.78, -1.60];
const blueEnds = [[-16.19, -2.58], [6.44, -11.44]];
const blueSide = [-6.10, -7.86];

const kickFrom = [4.9, -1.98];
const kickTo = [-3.64, -6.41];
const kickLabel = 'CSR kick';
const kickLabelAt = [11.72, -11.94];

const GREEN = '#99cc00';
const BLUE = '#333399';
const FRAME = '#3a3a3a';
const SERIF = '"Liberation Serif", "DejaVu Serif", serif';
const MAJOR_LEN = 8, MINOR_LEN = 4.5;

const toXY = pts => pts.map(([x, y]) => ({ x, y }));

function labelFor(v, values, labels) {
  const i = values.indexOf(v);
  return i >= 0 ? labels[i] : '';
}

// a tick at every unit, labelled ones every 5
function everyUnit(scale) {
  const out = [];
  for (let v = Math.ceil(scale.min); v <= Math.floor(scale.max); v++) out.push({ value: v });
  scale.ticks = out;
}

// minor ticks drawn shorter, by dashing the tick line
function tickDash(outerFirst) {
  return ctx => {
    if (!ctx.tick || ctx.tick.value % 5 === 0) return [];
    return outerFirst ? [0, MAJOR_LEN - MINOR_LEN - 0.75, MINOR_LEN, 100] : [MINOR_LEN, 100];
  };
}

function gridCfg(outerFirst) {
  return {
    drawOnChartArea: false,
    drawTicks: true,
    tickLength: MAJOR_LEN,
    tickColor: FRAME,
    tickWidth: 1.2,
    tickBorderDash: tickDash(outerFirst)
  };
}

function ellipseFor(xs, ys, ends, side) {
  const p1 = [xs.getPixelForValue(ends[0][0]), ys.getPixelForValue(ends[0][1])];
  const p2 = [xs.getPixelForValue(ends[1][0]), ys.getPixelForValue(ends[1][1])];
  const ps = [xs.getPixelForValue(side[0]), ys.getPixelForValue(side[1])];
  const cx = (p1[0] + p2[0]) / 2, cy = (p1[1] + p2[1]) / 2;
  return {
    cx, cy,
    a: Math.hypot(p2[0] - p1[0], p2[1] - p1[1]) / 2,
    b: Math.hypot(ps[0] - cx, ps[1] - cy),
    rot: Math.atan2(p2[1] - p1[1], p2[0] - p1[0])
  };
}

function hatchEllipse(ctx, area, e, color) {
  ctx.save();
  ctx.beginPath();
  ctx.ellipse(e.cx, e.cy, e.a, e.b, e.rot, 0, Math.PI * 2);
  ctx.clip();
  ctx.fillStyle = color;
  for (let y = area.top; y < area.bottom; y += 4.65) {
    ctx.fillRect(area.left, y, area.right - area.left, 3.5);
  }
  ctx.restore();
}

const overlay = {
  id: 'overlay',
  afterDatasetsDraw(chart) {
    const { ctx, chartArea, scales: { x, y } } = chart;
    hatchEllipse(ctx, chartArea, ellipseFor(x, y, greenEnds, greenSide), GREEN);
    hatchEllipse(ctx, chartArea, ellipseFor(x, y, blueEnds, blueSide), BLUE);

    // kick arrow
    const ax = x.getPixelForValue(kickFrom[0]), ay = y.getPixelForValue(kickFrom[1]);
    const bx = x.getPixelForValue(kickTo[0]), by = y.getPixelForValue(kickTo[1]);
    const len = Math.hypot(bx - ax, by - ay);
    const ux = (bx - ax) / len, uy = (by - ay) / len;
    const headLen = 35, headHalf = 17;
    ctx.save();
    ctx.strokeStyle = BLUE;
    ctx.fillStyle = BLUE;
    ctx.lineWidth = 2.6;
    ctx.beginPath();
    ctx.moveTo(ax, ay);
    ctx.lineTo(bx - ux * headLen * 0.8, by - uy * headLen * 0.8);
    ctx.stroke();
    ctx.beginPath();
    ctx.moveTo(bx, by);
    ctx.lineTo(bx - ux * headLen - uy * headHalf, by - uy * headLen + ux * headHalf);
    ctx.lineTo(bx - ux * headLen * 0.82, by - uy * headLen * 0.82);
    ctx.lineTo(bx - ux * headLen + uy * headHalf, by - uy * headLen - ux * headHalf);
    ctx.closePath();
    ctx.fill();

    ctx.font = '48px "Liberation Sans", Arial, sans-serif';
    ctx.textAlign = 'left';
    ctx.textBaseline = 'alphabetic';
    ctx.fillText(kickLabel, x.getPixelForValue(kickLabelAt[0]), y.getPixelForValue(kickLabelAt[1]));
    ctx.restore();
  }
};

const pointStyle = { backgroundColor: '#000', borderWidth: 0, pointStyle: 'rect' };

new Chart(document.getElementById('phaseSpace'), {
  type: 'scatter',
  data: {
    datasets: [
      { ...pointStyle, data: toXY(sparseHalo), pointRadius: 1.7 },
      { ...pointStyle, data: toXY(upperField), pointRadius: 1.7 },
      { ...pointStyle, data: toXY(midField), pointRadius: 1.7 },
      { ...pointStyle, data: toXY(midFieldFill), pointRadius: 1.5 },
      { ...pointStyle, data: toXY(scatterFill), pointRadius: 1.6 },
      { ...pointStyle, data: toXY(blueEdgeBand), pointRadius: 2.3 },
      { ...pointStyle, data: toXY(blueEdgeFill), pointRadius: 2.3 },
      { ...pointStyle, data: toXY(greenEdgeBand), pointRadius: 2.2 },
      { ...pointStyle, data: toXY(greenEdgeFill), pointRadius: 2.2 },
      { ...pointStyle, data: toXY(greenEdgeThick), pointRadius: 2.3 },
      { ...pointStyle, data: toXY(denseCore), pointRadius: 2.8 },
      { ...pointStyle, data: toXY(coreFill), pointRadius: 2.8 },
      { ...pointStyle, data: toXY(coreSpeckle), pointRadius: 2.6 },
      { ...pointStyle, data: toXY(coreCenter), pointRadius: 2.7 },
      { ...pointStyle, data: toXY(coreStreak), pointRadius: 2.1 },
      { ...pointStyle, data: toXY(rightTail), pointRadius: 1.6 }
    ]
  },
  options: {
    responsive: true,
    maintainAspectRatio: false,
    animation: false,
    events: [],
    layout: { padding: 0 },
    plugins: { legend: { display: false }, tooltip: { enabled: false } },
    scales: {
      x: {
        type: 'linear', position: 'bottom', min: xRange[0], max: xRange[1],
        afterBuildTicks: everyUnit,
        afterFit: s => { s.height = 92; },
        border: { display: true, color: FRAME, width: 1.5 },
        grid: gridCfg(false),
        ticks: {
          autoSkip: false, maxRotation: 0, padding: 1, color: '#111',
          font: { family: SERIF, size: 17 },
          callback: v => labelFor(v, xTickValues, xTickLabels)
        },
        title: { display: true, text: 'X', color: '#111', font: { family: SERIF, size: 19 }, padding: { top: 0, bottom: 1 } }
      },
      xTop: {
        type: 'linear', position: 'top', min: xRange[0], max: xRange[1],
        afterBuildTicks: everyUnit,
        afterFit: s => { s.height = 14; },
        border: { display: true, color: FRAME, width: 1.5 },
        grid: gridCfg(true),
        ticks: { display: false }
      },
      y: {
        type: 'linear', position: 'left', min: yRange[0], max: yRange[1],
        afterBuildTicks: everyUnit,
        afterFit: s => { s.width = 110; },
        border: { display: true, color: FRAME, width: 1.5 },
        grid: gridCfg(true),
        ticks: {
          autoSkip: false, padding: 2, color: '#111',
          font: { family: SERIF, size: 20 },
          callback: v => labelFor(v, yTickValues, yTickLabels)
        },
        title: { display: true, text: 'Px', color: '#111', font: { family: SERIF, size: 19 }, padding: { top: 24, bottom: 0 } }
      },
      yRight: {
        type: 'linear', position: 'right', min: yRange[0], max: yRange[1],
        afterBuildTicks: everyUnit,
        afterFit: s => { s.width = 20; },
        border: { display: true, color: FRAME, width: 1.5 },
        grid: gridCfg(false),
        ticks: { display: false }
      }
    }
  },
  plugins: [overlay]
});
</script>
</body>
</html>
